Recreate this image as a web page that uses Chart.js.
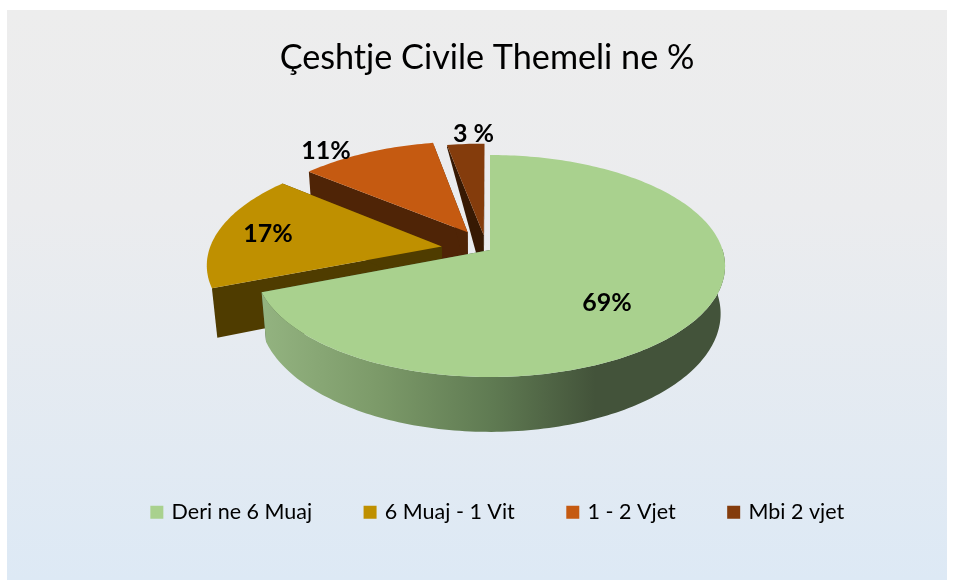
<!DOCTYPE html>
<html>
<head>
<meta charset="utf-8">
<style>html,body{margin:0;padding:0;background:#fff}canvas{display:block}</style>
<script src="https://cdn.jsdelivr.net/npm/chart.js@4"></script>
</head>
<body>
<div style="width:954px;height:580px"><canvas id="c"></canvas></div>
<script>
const categories = ['Deri ne 6 Muaj', '6 Muaj - 1 Vit', '1 - 2 Vjet', 'Mbi 2 vjet'];
const values = [69, 17, 11, 3];
const valueLabels = ['69%', '17%', '11%', '3 %'];
const titleText = 'Çeshtje Civile Themeli ne %';
const topColors = ['#A9D18E', '#BF9000', '#C55A11', '#843C0C'];
const faceColors = ['#43533A', '#4F3C00', '#4F2406', '#371903'];
const explode = [0, 49, 45, 33];
const explodeTilt = [0, 0, 0, -0.1];

const view = {cx: 490, cy: 250, scaleX: 1, scaleY: 0.4673, persp: -0.144, depth: 47};
const labelPlace = [
  {f: 0.65, dx: -15, dy: 11},
  {f: 0.70, dx: -17, dy: -1},
  {f: 1.00, dx: -41, dy: -1.5},
  {f: 1.00, dx: 5, dy: -10}
];

function project(r, u, v) {
  const w = 1 + view.persp * v;
  return {x: view.cx + view.scaleX * r * u / w, y: view.cy + view.scaleY * r * v / w};
}
function depthAt(v) {
  const w = 1 + view.persp * v;
  const fade = Math.min(1, Math.max(0, (v + 1.14) / 0.35));
  return view.depth / w * fade;
}
// Chart.js angles: 0 = +x, increases clockwise on screen. u = cos a, v = sin a.
function ringPoints(el, off) {
  const pts = [];
  const n = Math.max(4, Math.ceil((el.endAngle - el.startAngle) / 0.02));
  for (let i = 0; i <= n; i++) {
    const a = el.startAngle + (el.endAngle - el.startAngle) * i / n;
    pts.push({u: Math.cos(a) + off.u, v: Math.sin(a) + off.v});
  }
  return pts;
}
const pie3d = {
  id: 'pie3d',
  beforeDraw(chart) {
    const {ctx} = chart;
    const g = ctx.createLinearGradient(0, 10, 0, 580);
    g.addColorStop(0, '#EDEDED');
    g.addColorStop(0.35, '#EBECEE');
    g.addColorStop(1, '#DDE9F5');
    ctx.save();
    ctx.fillStyle = g;
    ctx.fillRect(7, 10, 940, 570);
    ctx.restore();
  },
  afterLayout(chart) {
    chart.legend.left += 11.5;
    chart.legend.right += 11.5;
  },
  beforeDatasetDraw(chart) {
    const {ctx} = chart;
    const arcs = chart.getDatasetMeta(0).data;
    const order = arcs.map((_, i) => i).reverse();
    order.forEach(i => {
      const el = arcs[i];
      const r = el.outerRadius;
      const mid = (el.startAngle + el.endAngle) / 2 + explodeTilt[i];
      const k = el.options.offset / r;
      const off = {u: Math.cos(mid) * k, v: Math.sin(mid) * k};
      const ring = ringPoints(el, off);
      const apex = {u: off.u, v: off.v};
      const P = p => project(r, p.u, p.v);
      const B = p => { const q = P(p); return {x: q.x + (q.x < 490 ? 0.11 : -0.11) * depthAt(p.v) * Math.abs(q.x - 490) / 280, y: q.y + depthAt(p.v)}; };
      const poly = (list, fill) => {
        ctx.beginPath();
        list.forEach((q, n) => n ? ctx.lineTo(q.x, q.y) : ctx.moveTo(q.x, q.y));
        ctx.closePath();
        ctx.fillStyle = fill;
        ctx.fill();
      };
      // cut faces
      const first = ring[0], last = ring[ring.length - 1];
      poly([P(apex), P(first), B(first), B(apex)], faceColors[i]);
      poly([P(apex), P(last), B(last), B(apex)], faceColors[i]);
      // outer rim of the un-exploded slice
      if (i === 0) {
        const g = ctx.createLinearGradient(262, 0, 725, 0);
        g.addColorStop(0, '#93B380');
        g.addColorStop(0.25, '#7C9A69');
        g.addColorStop(0.5, '#5F7A52');
        g.addColorStop(0.72, '#43533A');
        g.addColorStop(1, '#43533A');
        const front = ring.filter(p => p.v >= -0.02);
        poly(front.map(P).concat(front.slice().reverse().map(B)), g);
      }
      // top surface
      poly([P(apex)].concat(ring.map(P)), topColors[i]);
    });
    return false;
  },
  afterDatasetsDraw(chart) {
    const {ctx} = chart;
    const arcs = chart.getDatasetMeta(0).data;
    ctx.save();
    ctx.font = 'bold 25px Lato, "Liberation Sans", sans-serif';
    ctx.fillStyle = '#000';
    ctx.textAlign = 'center';
    ctx.textBaseline = 'middle';
    arcs.forEach((el, i) => {
      const mid = (el.startAngle + el.endAngle) / 2;
      const k = el.options.offset / el.outerRadius + labelPlace[i].f;
      const p = project(el.outerRadius, Math.cos(mid) * k, Math.sin(mid) * k);
      ctx.fillText(valueLabels[i], p.x + labelPlace[i].dx, p.y + labelPlace[i].dy);
    });
    ctx.restore();
  }
};

new Chart(document.getElementById('c'), {
  type: 'pie',
  data: {
    labels: categories,
    datasets: [{
      data: values,
      backgroundColor: topColors,
      offset: explode,
      borderWidth: 0
    }]
  },
  plugins: [pie3d],
  options: {
    responsive: true,
    maintainAspectRatio: false,
    animation: false,
    radius: 232.6,
    layout: {padding: {left: 20, right: 0, top: 0, bottom: 47}},
    plugins: {
      tooltip: {enabled: false},
      title: {
        display: true,
        text: titleText,
        color: '#000',
        font: {family: 'Lato, "Liberation Sans", sans-serif', size: 34.2, weight: 'normal'},
        padding: {top: 37, bottom: 10}
      },
      legend: {
        position: 'bottom',
        labels: {
          color: '#000',
          font: {family: 'Lato, "Liberation Sans", sans-serif', size: 21.5},
          boxWidth: 8,
          boxHeight: 8,
          padding: 54,
          generateLabels(chart) {
            const items = Chart.overrides.pie.plugins.legend.labels.generateLabels(chart);
            items.forEach(it => { it.lineWidth = 5; it.strokeStyle = it.fillStyle; });
            return items;
          }
        }
      }
    }
  }
});
</script>
</body>
</html>
